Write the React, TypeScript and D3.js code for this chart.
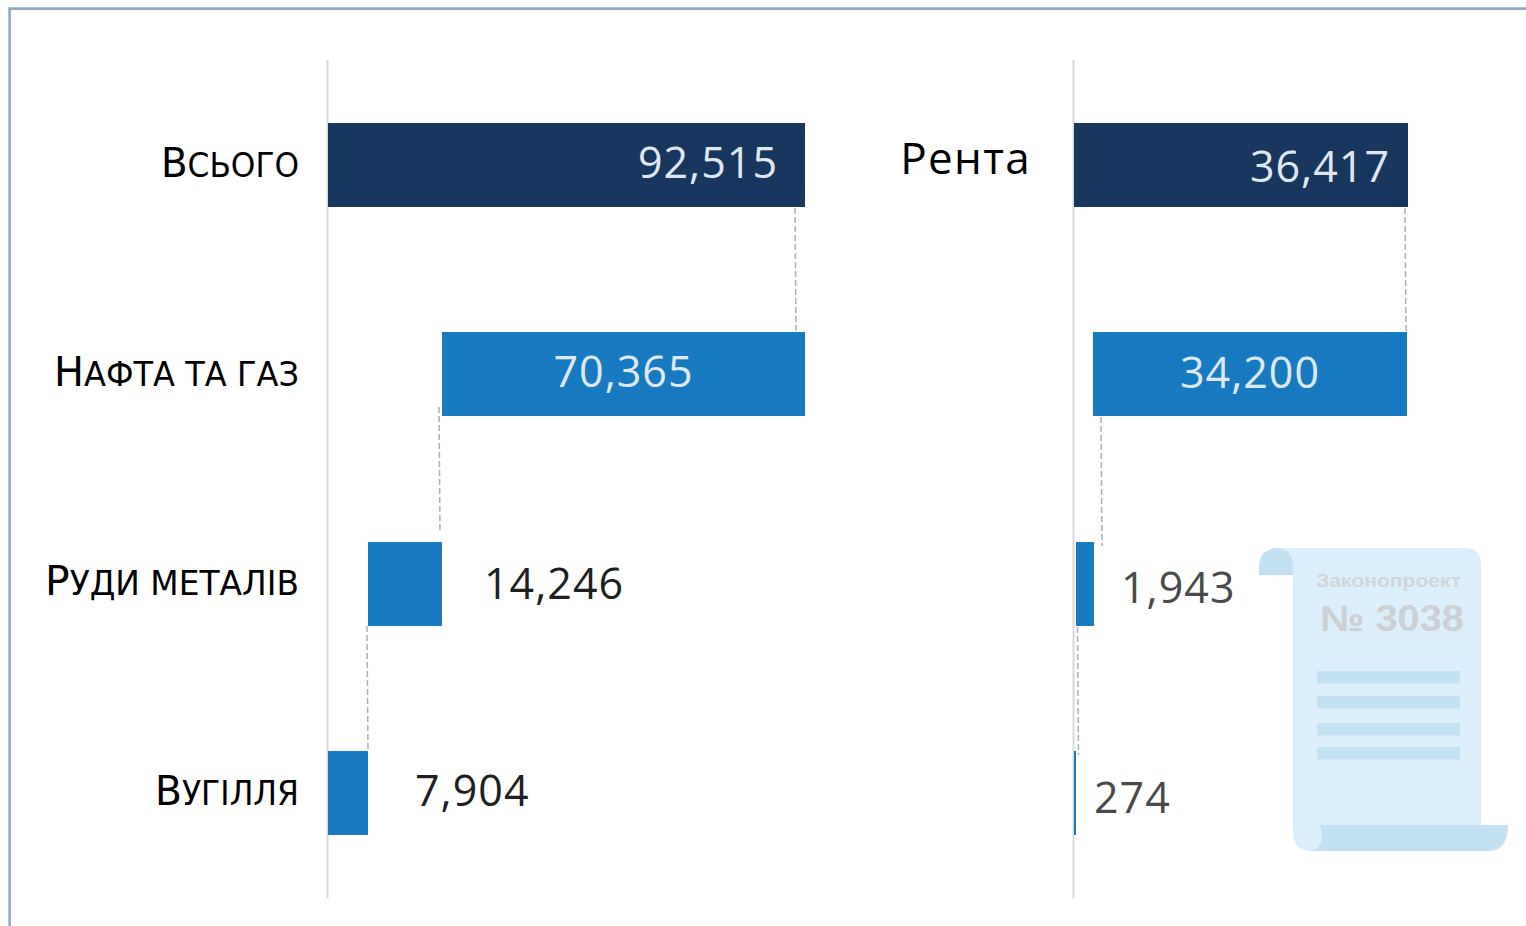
import React from "react";
import * as d3 from "d3";

const categories = ["Всього", "Нафта та газ", "Руди металів", "Вугілля"];
const totalValues = [92515, 70365, 14246, 7904];
const rentValues = [36417, 34200, 1943, 274];
const rentTitle = "Рента";
const docTitle = "Законопроект";
const docNumber = "№ 3038";

const FONT = "'Open Sans', 'Noto Sans', sans-serif";
const LABEL_FONT = "'DejaVu Sans', 'Open Sans', sans-serif";
const DARK = "#17375e";
const BLUE = "#187bc2";
const W = 1526, H = 926;

const y = d3.scaleBand<number>().domain([0, 1, 2, 3]).range([123, 835]).paddingInner(125 / 209).paddingOuter(0);
const xLeft = d3.scaleLinear().domain([0, 92515]).range([328, 805]);
const xRight = d3.scaleLinear().domain([0, 36417]).range([1074, 1408]);

type Row = { i: number; x0: number; x1: number; value: number };
function spans(values: number[], x: d3.ScaleLinear<number, number>, nudge: number[]): Row[] {
  // waterfall: first bar is the total, each next bar hangs from the previous bar's left edge
  let right = values[0];
  return values.map((value, i) => {
    if (i === 0) return { i, x0: x(0), x1: x(value), value };
    const r = { i, x0: Math.floor(x(right - value)) + nudge[i], x1: Math.floor(x(right)) + nudge[i], value };
    right -= value;
    return r;
  });
}

const fmt = d3.format(",");

function Panel({ rows, labelX, labelDy, labelFill, connectors }: {
  rows: Row[]; labelX: number[]; labelDy: number[]; labelFill: string[]; connectors: number[][];
}) {
  return (
    <g>
      {rows.map(r => (
        <rect key={r.i} x={r.x0} y={Math.round(y(r.i)!)} width={r.x1 - r.x0} height={84} fill={r.i === 0 ? DARK : BLUE} />
      ))}
      {connectors.map(([a, b, t, u], k) => (
        <line key={k} x1={a} x2={b} y1={t} y2={u} stroke="#b0b0b0" strokeWidth={1.5} strokeDasharray="6 3" />
      ))}
      {rows.map(r => {
        const inside = r.i < 2;
        const cx = r.i === 1 ? (r.x0 + r.x1) / 2 : r.x1 + labelX[r.i];
        return (
          <text key={r.i} x={cx} y={y(r.i)! + 42 + labelDy[r.i]} dominantBaseline="central"
            textAnchor={r.i === 1 ? "middle" : r.i === 0 ? "end" : "start"}
            fontFamily={FONT} fontSize={43} letterSpacing={1} fill={inside ? "#dfe8f2" : labelFill[r.i]}>
            {fmt(r.value)}
          </text>
        );
      })}
    </g>
  );
}

function Scroll() {
  return (
    <g>
      <path d="M1293 575 L1293 832 Q1293 851 1312 851 L1490 851 Q1508 851 1508 825 L1481 825 L1481 565 Q1481 548 1464 548 L1272 548 Q1293 552 1293 575 Z" fill="#daeffb" />
      <path d="M1259 575 L1259 566 Q1260 548 1279 548 Q1293 550 1293 566 L1293 575 Z" fill="#c2e1f2" />
      <path d="M1320 825 L1508 825 Q1507 851 1487 851 L1310 851 Q1327 848 1320 825 Z" fill="#c2e1f2" />
      <text x={1316} y={587} textLength={145} lengthAdjust="spacingAndGlyphs" fontFamily="'Liberation Sans', sans-serif" fontWeight={700} fontSize={18.5} fill="#d0d6da">{docTitle}</text>
      <text x={1320} y={631} textLength={144} lengthAdjust="spacingAndGlyphs" fontFamily="'Liberation Sans', sans-serif" fontWeight={700} fontSize={36} fill="#cdd1d4">{docNumber}</text>
      {[671, 696, 723, 747].map(t => <rect key={t} x={1317} y={t} width={143} height={12.5} fill="#c2e1f2" />)}
    </g>
  );
}

const labelWidths = [138, 245, 254, 144];
const labelBase = [54, 54, 53, 54];

export default function App() {
  const left = spans(totalValues, xLeft, [0, 0, 0, 0]);
  const right = spans(rentValues, xRight, [0, -1, 0, 0]);
  return (
    <svg width={W} height={H} style={{ position: "absolute", left: 0, top: 0 }}>
      <rect width={W} height={H} fill="#ffffff" />
      <path d="M1526 8.6 L9.6 8.6 L9.6 926" fill="none" stroke="#8ea9c8" strokeWidth={2.6} />
      <line x1={327.5} x2={327.5} y1={60} y2={898} stroke="#d9d9d9" strokeWidth={2} />
      <line x1={1073.5} x2={1073.5} y1={60} y2={898} stroke="#d9d9d9" strokeWidth={2} />

      {categories.map((c, i) => (
        <text key={c} x={299 - labelWidths[i]} y={y(i)! + labelBase[i]}
          textLength={labelWidths[i]} lengthAdjust="spacingAndGlyphs"
          fontFamily={LABEL_FONT} fontSize={41} fill="#000">
          <tspan>{c[0]}</tspan>
          <tspan fontSize={33}>{c.slice(1).toUpperCase()}</tspan>
        </text>
      ))}
      <text x={1031} y={157} dominantBaseline="central" textAnchor="end" fontFamily={FONT} fontSize={44} letterSpacing={1.3} fill="#000">{rentTitle}</text>

      <Scroll />

      <Panel rows={left} labelX={[-27, 0, 42, 47]} labelDy={[-4, -4, -1, -3]} labelFill={["", "", "#1f1f1f", "#1f1f1f"]}
        connectors={[[795, 796, 208, 332], [439, 440, 407, 530], [367, 368, 626, 750]]} />
      <Panel rows={right} labelX={[-18, 0, 27, 18]} labelDy={[0, -3, 3, 4]} labelFill={["", "", "#4a4a4a", "#4a4a4a"]}
        connectors={[[1405, 1406, 208, 332], [1101, 1102, 417, 546], [1077.5, 1078.5, 627, 755]]} />
    </svg>
  );
}
